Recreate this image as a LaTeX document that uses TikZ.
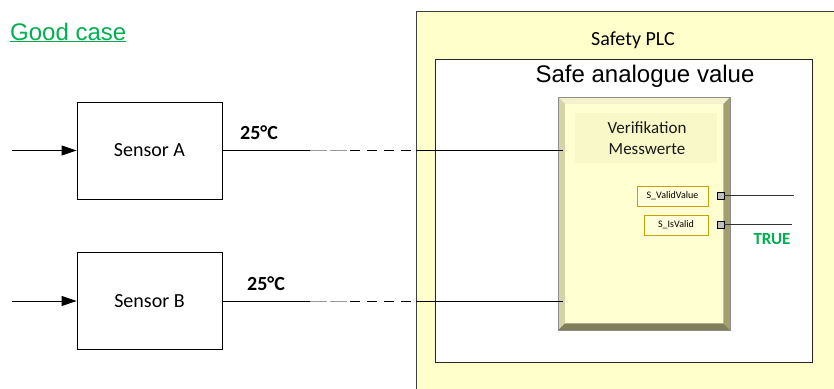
\documentclass[tikz,border=0pt]{standalone}
\usepackage{fontspec}
\setmainfont{Carlito}
\newfontfamily\arialf{Liberation Sans}
\usetikzlibrary{arrows.meta,calc}
\definecolor{plcyellow}{HTML}{FFFFCC}
\definecolor{okgreen}{HTML}{00B050}
\definecolor{blockface}{HTML}{FFFFD2}
\definecolor{titleface}{HTML}{F8F8C8}
\definecolor{pinborder}{HTML}{C8A000}
\definecolor{pinfill}{HTML}{FFFFDC}
\definecolor{bevtop}{HTML}{F2F2CC}
\definecolor{bevleft}{HTML}{D4D4A8}
\definecolor{bevright}{HTML}{A0A070}
\definecolor{bevbottom}{HTML}{808058}
\tikzset{
  sensorbox/.style={draw, line width=0.9pt, minimum width=145pt, minimum height=97pt, inner sep=0pt, font=\fontsize{20}{24}\selectfont},
  wire/.style={line width=0.9pt},
  valuelbl/.style={font=\bfseries\fontsize{20}{24}\selectfont, anchor=base},
  pinbox/.style={draw=pinborder, fill=pinfill, line width=1pt, minimum height=20pt, inner sep=0pt, font=\fontsize{10}{12}\selectfont},
  pinsq/.style={draw, fill=black!25, line width=0.8pt, minimum size=7pt, inner sep=0pt},
}
\begin{document}
\begin{tikzpicture}[x=1pt,y=-1pt]
\useasboundingbox (0,0) rectangle (834,388);
\clip (0,0) rectangle (834,388);

% Good case
\node[anchor=base west, inner sep=0pt, text=okgreen, font=\arialf\fontsize{24}{28}\selectfont] (good) at (10,40) {\underline{Good case}};

% Safety PLC outer box
\node[draw=black!75, fill=plcyellow, line width=1pt, anchor=north west, minimum width=440pt, minimum height=400pt, inner sep=0pt] (plc) at (416,11) {};
\node[anchor=base, inner sep=0pt, font=\fontsize{20}{24}\selectfont] (plclbl) at (633,45) {Safety PLC};

% inner box
\node[draw=black!85, fill=white, line width=1.1pt, anchor=north west, minimum width=377pt, minimum height=303pt, inner sep=0pt] (inner) at (435,59) {};
\node[anchor=base, inner sep=0pt, font=\arialf\fontsize{24}{28}\selectfont] (innerlbl) at (645,82) {Safe analogue value};

% function block with bevel
\node[anchor=north west, minimum width=172pt, minimum height=233pt, inner sep=0pt] (block) at (558,97) {};
\coordinate (fnw) at ($(block.north west)+(7,7)$);
\coordinate (fne) at ($(block.north east)+(-7,7)$);
\coordinate (fsw) at ($(block.south west)+(7,-7)$);
\coordinate (fse) at ($(block.south east)+(-7,-7)$);
\fill[bevtop] (block.north west) -- (block.north east) -- (fne) -- (fnw) -- cycle;
\fill[bevleft] (block.north west) -- (fnw) -- (fsw) -- (block.south west) -- cycle;
\fill[bevright] (block.north east) -- (block.south east) -- (fse) -- (fne) -- cycle;
\fill[bevbottom] (block.south west) -- (fsw) -- (fse) -- (block.south east) -- cycle;
\fill[blockface] (fnw) rectangle (fse);
\draw[black!45, line width=0.6pt] (block.north west) rectangle (block.south east);
\node[fill=titleface, anchor=north west, minimum width=142pt, minimum height=50pt, inner sep=0pt] (titlearea) at (575,113) {};
\node[align=center, inner sep=0pt, font=\fontsize{17}{21}\selectfont, black!90] (title) at (647,138) {Verifikation\\Messwerte};

% pins
\node[pinbox, minimum width=71pt] (vv) at (672.5,196) {S\_ValidValue};
\node[pinbox, minimum width=64pt] (iv) at (676,225) {S\_IsValid};
\node[pinsq] (sq1) at (720.5,195.5) {};
\node[pinsq] (sq2) at (720.5,224.5) {};
\coordinate (o1) at (794,195.5);
\coordinate (o2) at (792,224.5);
\draw[wire, black!80] (sq1.east) -- (o1);
\draw[wire, black!80] (sq2.east) -- (o2);
\node[inner sep=0pt, text=okgreen, font=\bfseries\fontsize{17}{20}\selectfont] (true) at (772,239) {TRUE};

% sensors
\node[sensorbox] (sa) at (149.5,150.5) {Sensor A};
\node[sensorbox] (sb) at (149.5,301) {Sensor B};
\coordinate (ina) at (12,150.5);
\coordinate (inb) at (12,301);
\draw[wire, -{Triangle[length=15pt,width=10pt]}] (ina) -- (sa.west);
\draw[wire, -{Triangle[length=15pt,width=10pt]}] (inb) -- (sb.west);

\node[valuelbl] (va) at (259,139) {25°C};
\node[valuelbl] (vb) at (266,290) {25°C};

% wire A
\coordinate (a1) at (310,150.5);
\coordinate (a2) at (350,150.5);
\coordinate (a3) at (416,150.5);
\coordinate (a4) at (563,150.5);
\draw[wire] (sa.east) -- (a1);
\draw[wire, black!40, dash pattern=on 17pt off 3pt] (a1) -- (a2);
\draw[wire, dash pattern=on 10pt off 7pt] (a2) -- (a3);
\draw[wire] (a3) -- (a4);

% wire B
\coordinate (b1) at (310,301);
\coordinate (b2) at (350,301);
\coordinate (b3) at (416,301);
\coordinate (b4) at (563,301);
\draw[wire] (sb.east) -- (b1);
\draw[wire, black!40, dash pattern=on 17pt off 3pt] (b1) -- (b2);
\draw[wire, dash pattern=on 10pt off 7pt] (b2) -- (b3);
\draw[wire] (b3) -- (b4);
\end{tikzpicture}
\end{document}
